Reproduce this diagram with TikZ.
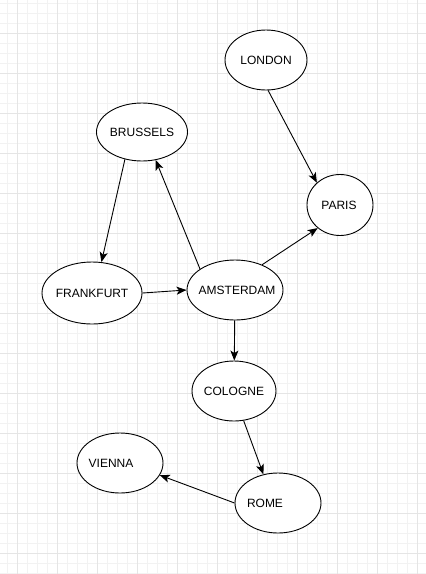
\documentclass[tikz,border=0pt]{standalone}
\usepackage{fontspec}
\setmainfont{Liberation Sans}
\usetikzlibrary{shapes.geometric, arrows.meta}
\definecolor{GridMinor}{HTML}{F2F2F2}
\definecolor{GridMajor}{HTML}{E5E5E5}

\begin{document}
\begin{tikzpicture}[
				x=1pt, y=-1pt,
				city/.style={
					draw=black,
					ellipse,
					fill=white,
					line width=0.9pt,
					inner sep=0pt
				},
				arrow/.style={
					-{Stealth[length=10pt, width=8pt, inset=2.5pt]},
					line width=0.9pt,
					draw=black
				},
				every label/.style={font=\fontsize{12}{14}\selectfont}
				]
				\useasboundingbox (0,0) rectangle (426,574);
				\fill[white] (0,0) rectangle (426,574);
				% background grid
				\foreach \x in {7,17,...,427} \draw[GridMinor, line width=0.8pt] (\x,0) -- (\x,574);
				\foreach \y in {3,13,...,573} \draw[GridMinor, line width=0.8pt] (0,\y) -- (426,\y);
				\foreach \x in {17,57,...,417} \draw[GridMajor, line width=0.8pt] (\x,0) -- (\x,574);
				\foreach \y in {33,73,...,553} \draw[GridMajor, line width=0.8pt] (0,\y) -- (426,\y);
				% cities
				\node[city, minimum width=82, minimum height=60,
					label=center:LONDON] (lon) at (266,60) {};
				\node[city, minimum width=91, minimum height=58,
					label=center:BRUSSELS] (bru) at (142,132) {};
				\node[city, minimum width=66, minimum height=61,
					label={[xshift=-1pt]center:PARIS}] (par) at (340,205) {};
				\node[city, minimum width=100, minimum height=62,
					label=center:FRANKFURT] (fra) at (92,293) {};
				\node[city, minimum width=96, minimum height=60,
					label={[xshift=2pt]center:AMSTERDAM}] (ams) at (235,290) {};
				\node[city, minimum width=84, minimum height=60,
					label=center:COLOGNE] (col) at (234,391) {};
				\node[city, minimum width=86, minimum height=60,
					label={[xshift=-9pt]center:VIENNA}] (vie) at (120,463) {};
				\node[city, minimum width=86, minimum height=60,
					label={[xshift=-13pt]center:ROME}] (rom) at (278,503) {};
				% routes
				\draw[arrow] (lon.-86) -- (par.136);
				\draw[arrow] (bru.-122) -- (fra.73);
				\draw[arrow] (ams.149) -- (bru.-64);
				\draw[arrow] (ams.43) -- (par.226);
				\draw[arrow] (fra.east) -- (ams.west);
				\draw[arrow] (ams) -- (col);
				\draw[arrow] (col.-72) -- (rom.117);
				\draw[arrow] (rom.west) -- (vie.-17);
			\end{tikzpicture}
\end{document}
